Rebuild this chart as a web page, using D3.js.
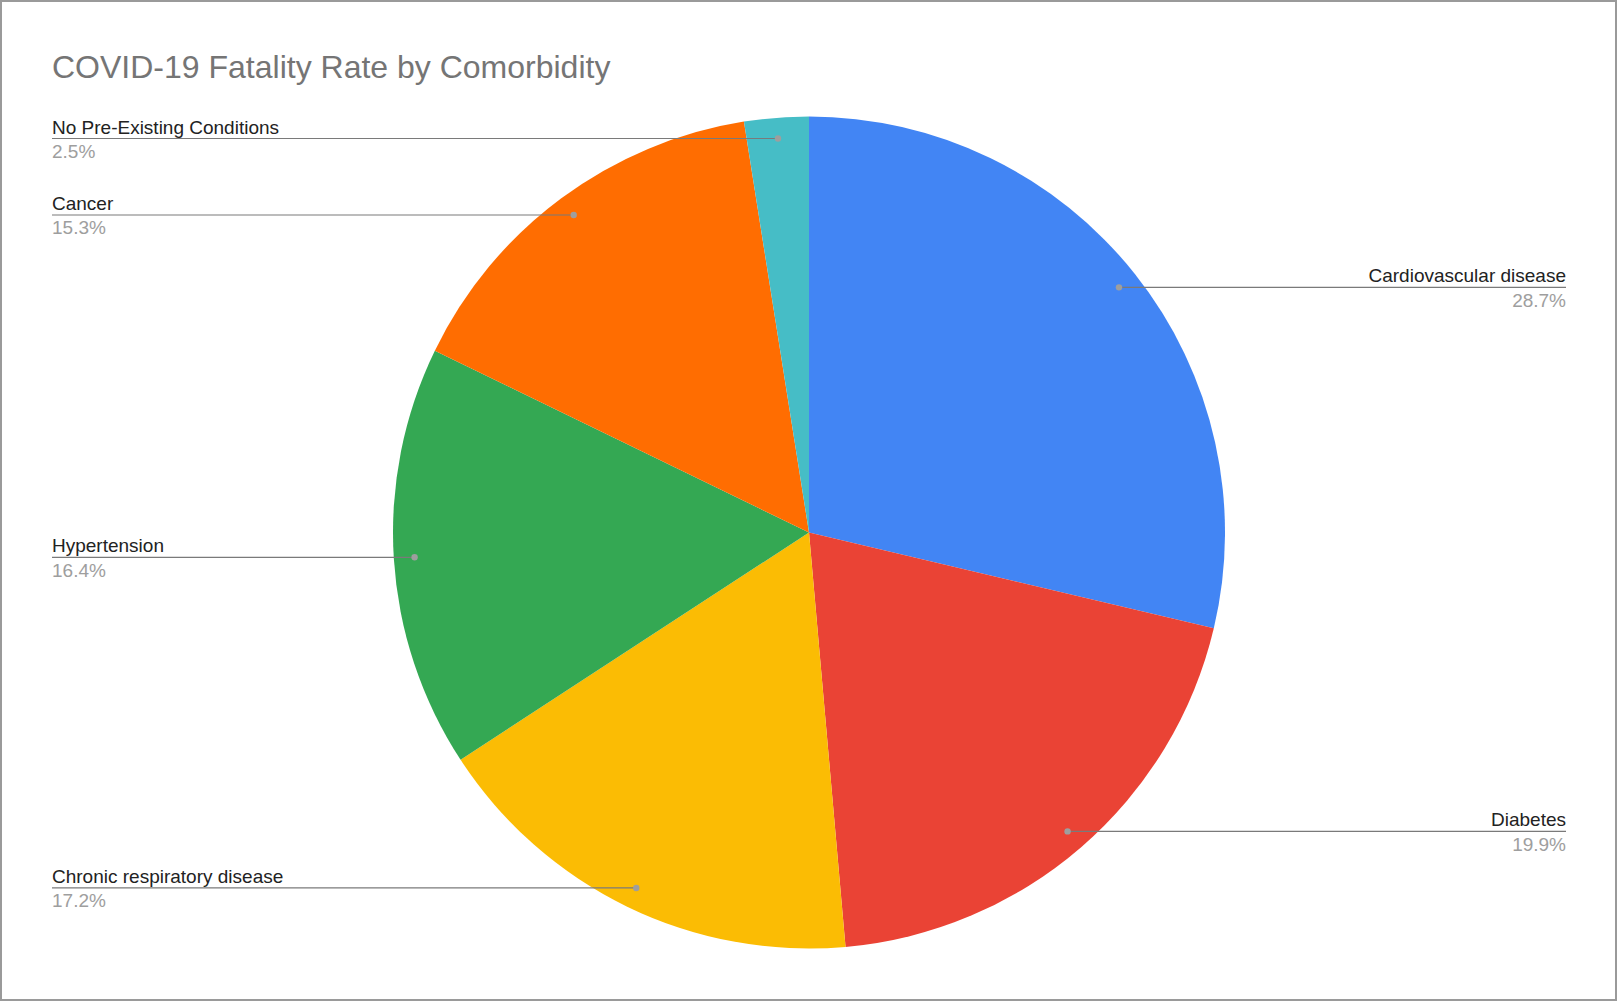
<!DOCTYPE html>
<html>
<head>
<meta charset="utf-8">
<script src="https://cdn.jsdelivr.net/npm/d3@7"></script>
<style>
  body { margin: 0; background: #fff; }
  svg { display: block; font-family: "Liberation Sans", Arial, sans-serif; }
</style>
</head>
<body>
<div id="chart"></div>
<script>
// data
var categories = ["Cardiovascular disease", "Diabetes", "Chronic respiratory disease",
                  "Hypertension", "Cancer", "No Pre-Existing Conditions"];
var rates = [28.7, 19.9, 17.2, 16.4, 15.3, 2.5];
var colors = ["#4285f4", "#ea4335", "#fbbc04", "#34a853", "#ff6d01", "#46bdc6"];

var width = 1618, height = 1002;
var cx = 809, cy = 532.5, radius = 416;
var leftX = 52, rightX = 1566;

var svg = d3.select("#chart")
  .append("svg")
    .attr("width", width)
    .attr("height", height);

// outer frame
svg.append("rect")
  .attr("x", 1).attr("y", 1)
  .attr("width", width - 3).attr("height", height - 3)
  .style("fill", "#fff")
  .style("stroke", "#9a9a9a")
  .style("stroke-width", 2);

// title
svg.append("text")
  .attr("x", leftX)
  .attr("y", 78)
  .style("font-size", "32px")
  .style("fill", "#757575")
  .text("COVID-19 Fatality Rate by Comorbidity");

var data = categories.map(function(c, i) {
  return { name: c, value: rates[i], color: colors[i] };
});

var pie = d3.pie()
  .sort(null)
  .value(function(d) { return d.value; });

var arc = d3.arc()
  .innerRadius(0)
  .outerRadius(radius);

var arcs = pie(data);

var g = svg.append("g")
  .attr("transform", "translate(" + cx + "," + cy + ")");

g.selectAll("path")
  .data(arcs)
  .enter()
  .append("path")
    .attr("d", arc)
    .style("fill", function(d) { return d.data.color; });

// leader lines + labels
var dotR = radius * 0.95;
arcs.forEach(function(d) {
  var mid = (d.startAngle + d.endAngle) / 2;
  var px = cx + dotR * Math.sin(mid),
      py = cy - dotR * Math.cos(mid);
  var right = Math.sin(mid) > 0;
  var endX = right ? rightX : leftX;

  svg.append("line")
    .attr("x1", px).attr("y1", py)
    .attr("x2", endX).attr("y2", py)
    .style("stroke", "#7a7a7a")
    .style("stroke-width", 1.2);

  svg.append("circle")
    .attr("cx", px).attr("cy", py)
    .attr("r", 3.2)
    .style("fill", "#9e9e9e");

  svg.append("text")
    .attr("x", endX)
    .attr("y", py - 5)
    .attr("text-anchor", right ? "end" : "start")
    .style("font-size", "19px")
    .style("fill", "#222")
    .text(d.data.name);

  svg.append("text")
    .attr("x", endX)
    .attr("y", py + 19.5)
    .attr("text-anchor", right ? "end" : "start")
    .style("font-size", "19px")
    .style("fill", "#9e9e9e")
    .text(d.data.value.toFixed(1) + "%");
});
</script>
</body>
</html>
